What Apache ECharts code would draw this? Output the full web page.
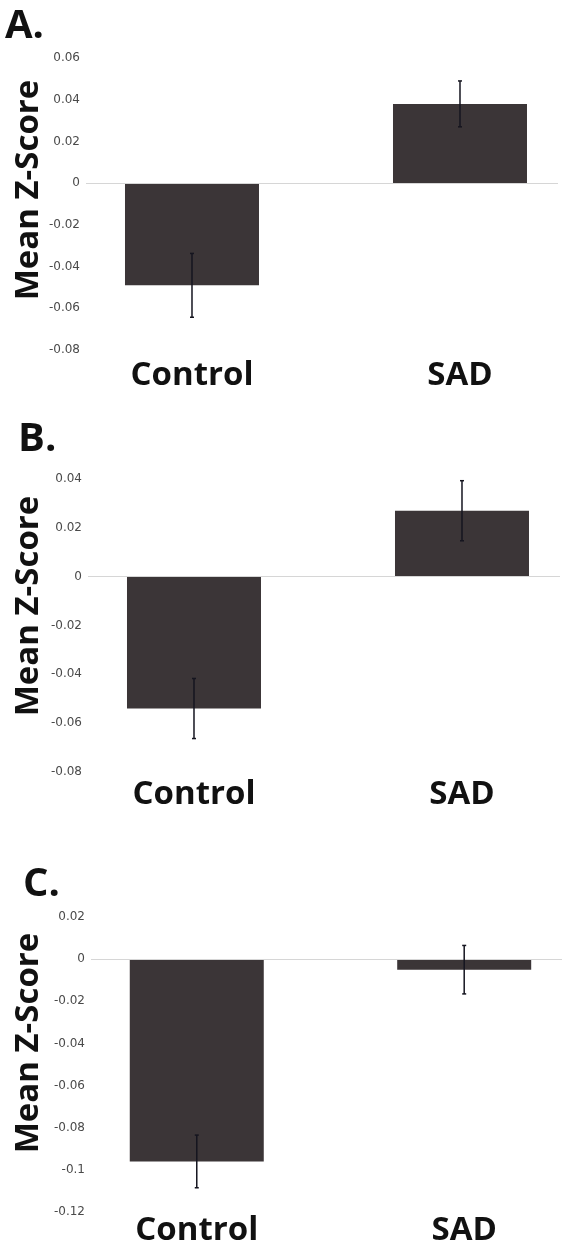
<!DOCTYPE html>
<html><head><meta charset="utf-8">
<script src="https://cdn.jsdelivr.net/npm/echarts@6/dist/echarts.min.js"></script>
<style>html,body{margin:0;padding:0;background:#fff}#c{width:562px;height:1249px}</style>
</head><body><div id="c"></div>
<script>
// ---- data ----
const categories = ['Control', 'SAD'];
const panelLabels = ['A.', 'B.', 'C.'];
const yTitle = 'Mean Z-Score';
const meanA = [-0.049, 0.038];
const errA = [0.0153, 0.011];
const meanB = [-0.054, 0.027];
const errB = [0.0123, 0.0123];
const meanC = [-0.096, -0.005];
const errC = [0.0125, 0.0115];
const yMinA = -0.08, yMaxA = 0.06;
const yMinB = -0.08, yMaxB = 0.04;
const yMinC = -0.12, yMaxC = 0.02;
const yStep = 0.02;

// ---- layout / style ----
const panels = [
  { mean: meanA, err: errA, min: yMinA, max: yMaxA, top: 58, height: 292, left: 86, margin: 9, lab: { left: 5, top: 7 }, ty: 190 },
  { mean: meanB, err: errB, min: yMinB, max: yMaxB, top: 479, height: 293, left: 88, margin: 6, lab: { left: 18, top: 420 }, ty: 606 },
  { mean: meanC, err: errC, min: yMinC, max: yMaxC, top: 917, height: 295, left: 91, margin: 2, lab: { left: 23, top: 865 }, ty: 1043 }
];
const gridWidth = 472;
const xMin = -0.3955, xMax = 1.3657;
const barColor = '#3b3537';
const errColor = '#15151f';
const boldFont = '"Open Sans", "Noto Sans", sans-serif';

const chart = echarts.init(document.getElementById('c'), null, { renderer: 'canvas' });

const option = {
  backgroundColor: '#ffffff',
  animation: false,
  title: panels.map((p, i) => ({
    text: panelLabels[i], left: p.lab.left, top: p.lab.top, padding: 0,
    textStyle: { fontFamily: boldFont, fontWeight: 'bold', fontSize: 40, color: '#111' }
  })),
  graphic: panels.map((p, i) => ({
    type: 'text', x: 29, y: p.ty, rotation: Math.PI / 2,
    style: { text: yTitle, fontFamily: boldFont, fontWeight: 'bold', fontSize: 33, fill: '#111', align: 'center', verticalAlign: 'middle' }
  })),
  grid: panels.map(p => ({ left: p.left, width: gridWidth, top: p.top, height: p.height })),
  xAxis: panels.map((p, i) => ({
    type: 'value', gridIndex: i, min: xMin, max: xMax,
    axisLine: { show: false }, axisTick: { show: false }, splitLine: { show: false },
    axisLabel: {
      customValues: [0, 1],
      formatter: v => categories[Math.round(v)] || '',
      margin: p.margin,
      fontFamily: boldFont, fontWeight: 'bold', fontSize: 33, color: '#111'
    }
  })),
  yAxis: panels.map((p, i) => ({
    type: 'value', gridIndex: i, min: p.min, max: p.max, interval: yStep,
    axisLine: { show: false }, axisTick: { show: false }, splitLine: { show: false },
    axisLabel: { fontFamily: '"DejaVu Sans", sans-serif', fontSize: 12, color: '#4a4a4a', margin: 6 }
  })),
  series: []
};

panels.forEach((p, i) => {
  option.series.push({
    type: 'bar', xAxisIndex: i, yAxisIndex: i, barWidth: 134, clip: false,
    itemStyle: { color: barColor },
    data: categories.map((c, k) => [k, p.mean[k]]),
    markLine: {
      silent: true, symbol: 'none', label: { show: false },
      lineStyle: { color: '#d6d6d6', width: 1, type: 'solid' },
      data: [{ yAxis: 0 }]
    }
  });
  option.series.push({
    type: 'custom', xAxisIndex: i, yAxisIndex: i, z: 5,
    encode: { x: 0, y: 1 },
    data: categories.map((c, k) => [k, p.mean[k], p.err[k]]),
    renderItem: (params, api) => {
      const x = api.value(0), m = api.value(1), s = api.value(2);
      const a = api.coord([x, m + s]);
      const b = api.coord([x, m - s]);
      const st = { stroke: errColor, lineWidth: 1.5 };
      return {
        type: 'group',
        children: [
          { type: 'line', shape: { x1: a[0], y1: a[1], x2: b[0], y2: b[1] }, style: st },
          { type: 'line', shape: { x1: a[0] - 2, y1: a[1], x2: a[0] + 2, y2: a[1] }, style: st },
          { type: 'line', shape: { x1: b[0] - 2, y1: b[1], x2: b[0] + 2, y2: b[1] }, style: st }
        ]
      };
    }
  });
});

chart.setOption(option);
</script>
</body></html>
